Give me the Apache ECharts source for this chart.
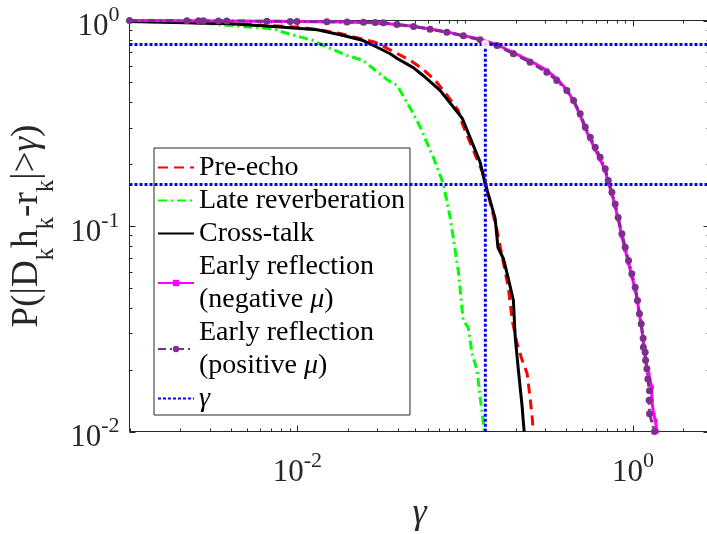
<!DOCTYPE html>
<html><head><meta charset="utf-8">
<script src="https://cdn.jsdelivr.net/npm/echarts@6/dist/echarts.min.js"></script>
<style>html,body{margin:0;padding:0;background:#fff}#c{width:707px;height:534px}</style>
</head><body><div id="c"></div>
<script>
const FONT = 'Liberation Serif';
const xRange = [0.001, 2.861];
const yRange = [0.01, 1];
const xLabelExps = [-2, 0];
const yLabelExps = [-2, -1, 0];

const seriesNames = ['Pre-echo', 'Late reverberation', 'Cross-talk',
  'Early reflection (negative \u03bc)', 'Early reflection (positive \u03bc)', '\u03b3'];

const preEcho = [[0.001,0.995],[0.00398,0.965],[0.0104,0.928],[0.0143,0.894],[0.018,0.864],[0.0291,0.784],[0.0348,0.728],[0.0471,0.639],[0.0555,0.584],[0.0664,0.511],[0.0782,0.432],[0.091,0.365],[0.0962,0.315],[0.107,0.255],[0.128,0.18],[0.155,0.095],[0.181,0.0502],[0.191,0.0347],[0.204,0.0268],[0.219,0.0222],[0.234,0.0192],[0.244,0.0146],[0.251,0.0117],[0.255,0.01]];

const lateReverb = [[0.001,0.995],[0.00221,0.985],[0.00398,0.946],[0.00718,0.911],[0.00824,0.877],[0.01245,0.799],[0.01426,0.756],[0.0198,0.676],[0.0247,0.639],[0.0283,0.584],[0.0348,0.511],[0.0394,0.483],[0.0491,0.353],[0.0541,0.302],[0.0646,0.216],[0.0741,0.161],[0.0815,0.11],[0.091,0.0607],[0.0975,0.0347],[0.1043,0.0321],[0.11,0.024],[0.118,0.0198],[0.123,0.0146],[0.128,0.0113],[0.13,0.01]];

const crossTalk = [[0.001,0.988],[0.00398,0.963],[0.00718,0.935],[0.01315,0.901],[0.0188,0.845],[0.0247,0.799],[0.0299,0.741],[0.0358,0.689],[0.0394,0.653],[0.0491,0.59],[0.0562,0.54],[0.0711,0.456],[0.0837,0.386],[0.0962,0.334],[0.107,0.27],[0.123,0.204],[0.132,0.159],[0.141,0.133],[0.151,0.109],[0.157,0.0786],[0.169,0.0695],[0.181,0.0555],[0.194,0.0434],[0.199,0.0287],[0.207,0.0205],[0.219,0.0131],[0.222,0.0113],[0.225,0.01]];

const earlyNeg = [[0.001,1.0],[0.0022,0.998],[0.0099,0.99],[0.0198,0.983],[0.0312,0.972],[0.0493,0.938],[0.0779,0.88],[0.123,0.81],[0.155,0.762],[0.194,0.698],[0.244,0.637],[0.307,0.572],[0.352,0.521],[0.404,0.46],[0.443,0.405],[0.485,0.345],[0.52,0.298],[0.557,0.265],[0.596,0.236],[0.638,0.211],[0.684,0.186],[0.713,0.163],[0.75,0.143],[0.784,0.125],[0.817,0.108],[0.86,0.089],[0.9,0.0765],[0.942,0.066],[0.986,0.057],[1.032,0.049],[1.065,0.043],[1.094,0.037],[1.121,0.033],[1.151,0.028],[1.19,0.0222],[1.24,0.019],[1.297,0.0164],[1.297,0.0142],[1.327,0.0122],[1.363,0.0113],[1.39,0.01]];

const earlyPos = [[0.001,1.0],[0.0022,0.998],[0.00258,0.997],[0.00276,0.996],[0.00339,0.995],[0.0038,0.994],[0.00659,0.992],[0.00908,0.99],[0.00996,0.989],[0.015,0.986],[0.0198,0.983],[0.0248,0.98],[0.0291,0.977],[0.0326,0.974],[0.0392,0.956],[0.0493,0.935],[0.0619,0.907],[0.0779,0.877],[0.0977,0.842],[0.123,0.806],[0.155,0.756],[0.194,0.689],[0.244,0.627],[0.307,0.56],[0.352,0.511],[0.404,0.456],[0.443,0.408],[0.485,0.352],[0.52,0.303],[0.557,0.27],[0.596,0.242],[0.638,0.216],[0.684,0.19],[0.713,0.1665],[0.75,0.146],[0.784,0.128],[0.817,0.11],[0.86,0.0916],[0.9,0.0788],[0.942,0.0679],[0.986,0.0585],[1.032,0.0504],[1.065,0.0434],[1.094,0.0374],[1.121,0.0334],[1.151,0.0284],[1.155,0.0257],[1.183,0.0243],[1.19,0.0222],[1.212,0.0202],[1.228,0.018],[1.256,0.0158],[1.25,0.0142],[1.256,0.0122],[1.345,0.01]];

const gammaX = 0.132;
const gammaLevels = [0.77, 0.158];

const legendLabels = {
  'Pre-echo': 'Pre-echo',
  'Late reverberation': 'Late reverberation',
  'Cross-talk': 'Cross-talk',
  'Early reflection (negative \u03bc)': 'Early reflection\n(negative {i|\u03bc})',
  'Early reflection (positive \u03bc)': 'Early reflection\n(positive {i|\u03bc})',
  '\u03b3': '{i|\u03b3}'
};
const markerSeries = [seriesNames[3], seriesNames[4]];

const AX = '#262626';
const chart = echarts.init(document.getElementById('c'), null, {renderer: 'canvas'});

function expLabel(v, list) {
  const e = Math.round(Math.log10(v));
  if (list.indexOf(e) < 0) return '';
  return '{b|10}{s|' + e + '}';
}
const labelRich = {
  b: {fontFamily: FONT, fontSize: 31, lineHeight: 44, verticalAlign: 'bottom', color: AX},
  s: {fontFamily: FONT, fontSize: 22, lineHeight: 44, verticalAlign: 'top', padding: [6, 0, 0, 0], color: AX}
};

const option = {
  animation: false,
  backgroundColor: '#fff',
  grid: {left: 129.5, top: 20.5, width: 580, height: 411, show: true, borderColor: AX, borderWidth: 1,
    backgroundColor: 'transparent', containLabel: false, outerBoundsMode: 'none'},
  xAxis: {
    type: 'log', logBase: 10, min: xRange[0], max: xRange[1],
    axisLine: {show: false}, axisTick: {show: false}, splitLine: {show: false},
    axisLabel: {margin: 12.5, formatter: v => expLabel(v, xLabelExps), rich: labelRich, showMinLabel: true, showMaxLabel: false},
    name: '{g|\u03b3}', nameLocation: 'middle', nameGap: 63,
    nameTextStyle: {rich: {g: {fontFamily: FONT, fontSize: 36, lineHeight: 38, fontStyle: 'italic', color: AX}}}
  },
  yAxis: {
    type: 'log', logBase: 10, min: yRange[0], max: yRange[1],
    axisLine: {show: false}, axisTick: {show: false}, splitLine: {show: false},
    axisLabel: {margin: 10, formatter: v => expLabel(v, yLabelExps), rich: labelRich},
    name: '{m|P(|D}{s|k}{m|h}{s|k}{m|-r}{s|k}{m||>}{g|\u03b3}{m|)}',
    nameLocation: 'middle', nameGap: 69.5, nameRotate: 90,
    nameTextStyle: {rich: {
      m: {fontFamily: FONT, fontSize: 37, lineHeight: 51, verticalAlign: 'top', color: AX},
      g: {fontFamily: FONT, fontSize: 37, lineHeight: 51, verticalAlign: 'top', fontStyle: 'italic', color: AX},
      s: {fontFamily: FONT, fontSize: 25, lineHeight: 51, verticalAlign: 'top', padding: [25, 0, 0, 0], color: AX}
    }}
  },
  legend: {
    left: 154, top: 148, orient: 'vertical', itemGap: 0, itemWidth: 36, itemHeight: 8,
    padding: [3, 5, 0, 3], borderColor: AX, borderWidth: 1, backgroundColor: 'transparent',
    selectedMode: false,
    formatter: name => legendLabels[name],
    textStyle: {fontFamily: FONT, fontSize: 28, lineHeight: 33, color: '#000',
      rich: {i: {fontFamily: FONT, fontSize: 28, lineHeight: 33, fontStyle: 'italic', color: '#000'}}},
    data: seriesNames.map(n => markerSeries.indexOf(n) >= 0 ? {name: n} : {name: n, itemStyle: {opacity: 0}})
  },
  series: [
    {name: seriesNames[0], type: 'line', data: preEcho, symbol: 'none', clip: false,
      lineStyle: {color: '#FF0000', width: 3, type: [10, 6]}, itemStyle: {color: '#FF0000'}},
    {name: seriesNames[1], type: 'line', data: lateReverb, symbol: 'none', clip: false,
      lineStyle: {color: '#00FF00', width: 3, type: [9, 4, 2, 4]}, itemStyle: {color: '#00FF00'}},
    {name: seriesNames[2], type: 'line', data: crossTalk, symbol: 'none', clip: false,
      lineStyle: {color: '#000000', width: 3}, itemStyle: {color: '#000000'}},
    {name: seriesNames[3], type: 'line', data: earlyNeg, symbol: 'rect', symbolSize: 4, showSymbol: true, clip: false,
      lineStyle: {color: '#FF00FF', width: 3}, itemStyle: {color: '#FF00FF'}},
    {name: seriesNames[4], type: 'line', data: earlyPos, symbol: 'circle', symbolSize: 7, showSymbol: true, clip: false,
      lineStyle: {color: '#7E2F8E', width: 3, type: [8, 4, 2, 4]}, itemStyle: {color: '#7E2F8E'}},
    {name: seriesNames[5], type: 'line', data: [[gammaX, gammaLevels[0]], [gammaX, yRange[0]]], symbol: 'none', clip: false,
      lineStyle: {color: '#0000FF', width: 3, type: [3, 2]}, itemStyle: {color: '#0000FF'},
      markLine: {silent: true, symbol: 'none', label: {show: false},
        lineStyle: {color: '#0000FF', width: 3, type: [3, 2]},
        data: gammaLevels.map(v => ({yAxis: v}))}},
    {name: 'gammaPoint', type: 'scatter', data: [[gammaX, gammaLevels[0]]], symbol: 'emptyCircle', symbolSize: 6,
      itemStyle: {color: '#fff', borderColor: '#0000FF', borderWidth: 1.5}, z: 5}
  ]
};
chart.setOption(option);

function buildTicks() {
  const g = [];
  const left = 129.5, right = 709.5, top = 20.5, bottom = 431.5;
  const xs = [], ys = [];
  for (let e = -3; e <= 0; e++) for (let m = 1; m <= 9; m++) {
    const v = m * Math.pow(10, e);
    if (v >= xRange[0] && v <= xRange[1]) xs.push({v, major: m === 1 && xLabelExps.indexOf(e) >= 0});
  }
  for (let e = -2; e <= 0; e++) for (let m = 1; m <= 9; m++) {
    const v = m * Math.pow(10, e);
    if (v >= yRange[0] && v <= yRange[1]) ys.push({v, major: m === 1});
  }
  xs.forEach(t => {
    const px = Math.round(chart.convertToPixel({xAxisIndex: 0}, t.v)) + 0.5;
    const L = t.major ? 6 : 3;
    g.push({type: 'line', shape: {x1: px, y1: bottom, x2: px, y2: bottom - L}, style: {stroke: AX, lineWidth: 1}, silent: true});
    g.push({type: 'line', shape: {x1: px, y1: top, x2: px, y2: top + L}, style: {stroke: AX, lineWidth: 1}, silent: true});
  });
  ys.forEach(t => {
    const py = Math.round(chart.convertToPixel({yAxisIndex: 0}, t.v)) + 0.5;
    const L = t.major ? 6 : 3;
    g.push({type: 'line', shape: {x1: left, y1: py, x2: left + L, y2: py}, style: {stroke: AX, lineWidth: 1}, silent: true});
    g.push({type: 'line', shape: {x1: right, y1: py, x2: right - L, y2: py}, style: {stroke: AX, lineWidth: 1}, silent: true});
  });
  chart.setOption({graphic: g});
}
buildTicks();
</script></body></html>
